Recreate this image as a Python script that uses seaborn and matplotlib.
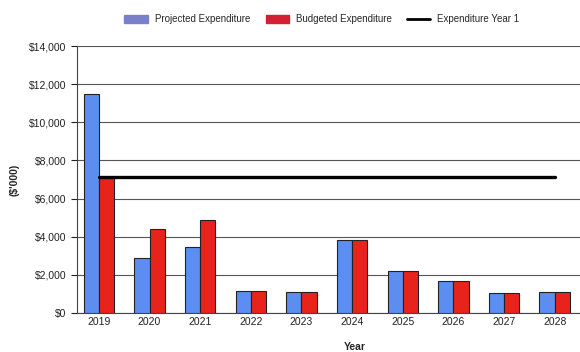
import matplotlib
matplotlib.use("Agg")
import matplotlib.pyplot as plt
import seaborn as sns
import pandas as pd
import numpy as np
from matplotlib.patches import Patch
from matplotlib.lines import Line2D
from matplotlib.ticker import FuncFormatter, MultipleLocator

years = ["2019", "2020", "2021", "2022", "2023", "2024", "2025", "2026", "2027", "2028"]
projected = [11500, 2900, 3450, 1150, 1100, 3850, 2200, 1700, 1050, 1100]
budgeted = [7150, 4400, 4900, 1150, 1100, 3850, 2200, 1700, 1050, 1100]
year1_level = [7150] * len(years)
series_names = ["Projected Expenditure", "Budgeted Expenditure"]
colors = ["#5b8ef0", "#e8231c"]

df = pd.DataFrame({
    "Year": years * 2,
    "Value": projected + budgeted,
    "Series": [series_names[0]] * len(years) + [series_names[1]] * len(years),
})

sns.set_theme(style="white")
plt.rcParams["font.family"] = ["Liberation Sans", "DejaVu Sans"]

fig = plt.figure(figsize=(5.8, 3.52), dpi=100)
ax = fig.add_axes([0.133, 0.111, 0.867, 0.758])

sns.barplot(data=df, x="Year", y="Value", hue="Series", palette=colors,
            width=0.6, edgecolor="#222222", linewidth=0.8, ax=ax,
            legend=False, saturation=1, zorder=3)

line_df = pd.DataFrame({"x": np.arange(len(years)), "y": year1_level})
sns.lineplot(data=line_df, x="x", y="y", color="black", linewidth=2.4, ax=ax, zorder=4)

ax.set_ylim(0, 14000)
ax.set_xlim(-0.43, 9.5)
ax.yaxis.set_major_locator(MultipleLocator(2000))
ax.yaxis.set_major_formatter(FuncFormatter(lambda v, p: f"${int(v):,}"))
ax.set_xticks(np.arange(len(years)))
ax.set_xticklabels(years)
ax.set_xticks(np.arange(len(years)) + 0.5, minor=True)
ax.tick_params(axis="x", which="major", length=0, labelsize=7.5, pad=3, colors="#222222")
ax.tick_params(axis="x", which="minor", length=3, width=0.8, color="#444444", direction="out")
ax.tick_params(axis="y", which="major", length=4, width=0.8, labelsize=7.5, left=True,
               colors="#222222", direction="out")
ax.grid(axis="y", color="#555555", linewidth=0.8, zorder=0)
ax.set_axisbelow(True)
for s in ["top", "right"]:
    ax.spines[s].set_visible(False)
ax.spines["left"].set_color("#444444")
ax.spines["bottom"].set_color("#444444")
ax.spines["left"].set_linewidth(0.8)
ax.spines["bottom"].set_linewidth(0.8)

ax.set_ylabel("($'000)", fontsize=7.5, fontweight="bold", labelpad=7)
ax.set_xlabel("Year", fontsize=7.5, fontweight="bold")
ax.xaxis.set_label_coords(0.553, -0.11)

handles = [
    Patch(facecolor="#7a80c8", edgecolor="#7a80c8"),
    Patch(facecolor="#d42035", edgecolor="#d42035"),
    Line2D([0], [0], color="black", linewidth=2),
]
labels = ["Projected Expenditure", "Budgeted Expenditure", "Expenditure Year 1"]
fig.legend(handles, labels, loc="center", bbox_to_anchor=(0.555, 0.945), ncol=3,
           frameon=False, fontsize=7, handlelength=2.4, handleheight=0.8,
           columnspacing=1.6, handletextpad=0.7)

fig.savefig("out.png", dpi=100)
